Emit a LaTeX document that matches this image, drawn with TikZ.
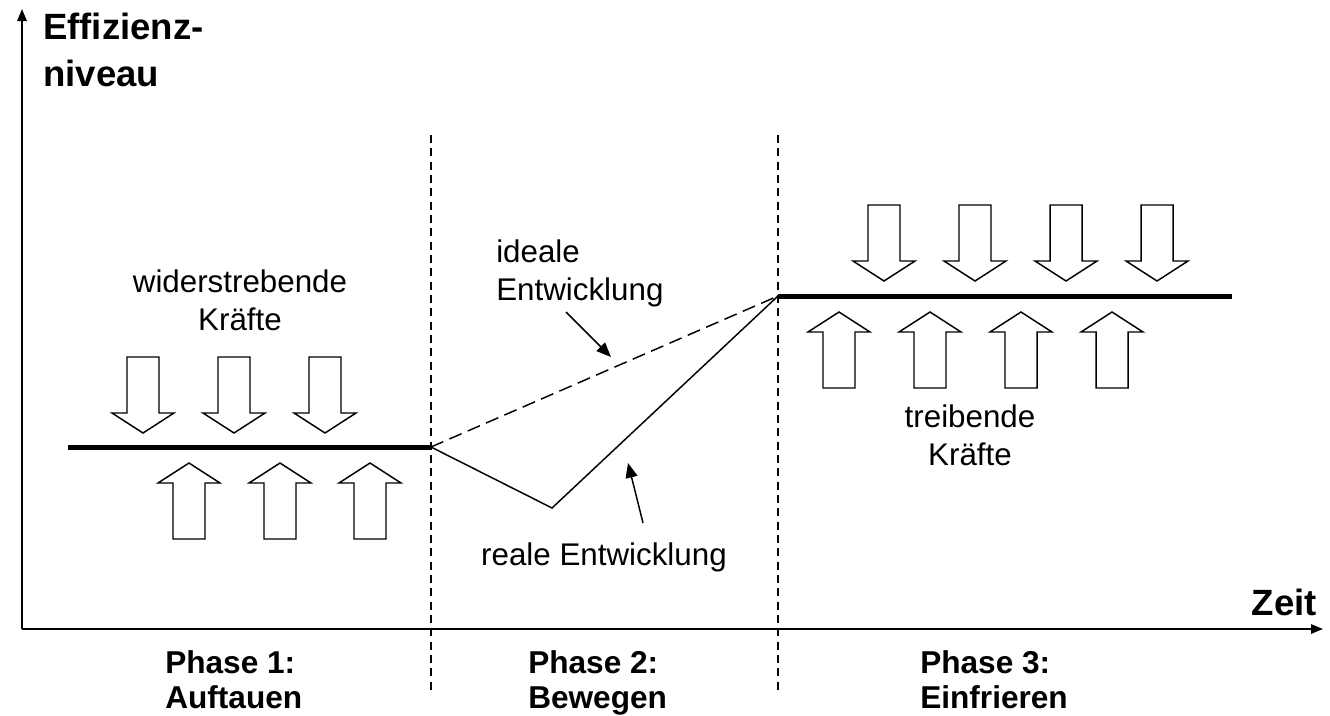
\documentclass[tikz,border=0pt]{standalone}
\usepackage{fontspec}
\setmainfont{Liberation Sans}
\usetikzlibrary{arrows.meta}

\begin{document}
\begin{tikzpicture}[x=0.75pt, y=-0.75pt,
		achse/.style={line width=1.5pt, -{Triangle[length=9pt, width=7pt]}},
		trenn/.style={line width=0.9pt, dash pattern=on 6pt off 4pt},
		niveau/.style={line width=3.75pt},
		verlauf/.style={line width=1.1pt},
		zeiger/.style={line width=1.1pt, -{Triangle[length=11pt, width=9pt]}},
		kraft/.style={draw, fill=white, line width=1.1pt},
		txt/.style={inner sep=0pt, font=\fontsize{23.5}{28.5}\selectfont},
		fett/.style={inner sep=0pt, font=\fontsize{27.4}{35}\selectfont\bfseries},
		phase/.style={inner sep=0pt, align=left, anchor=west, font=\fontsize{23.7}{26.5}\selectfont\bfseries}]
		\useasboundingbox (0, 0) rectangle (1330, 715);
		% Achsen
		\coordinate (o) at (22, 629);
		\coordinate (yende) at (22, 9);
		\coordinate (xende) at (1323, 629);
		\draw[achse] (o) -- (yende);
		\draw[achse] (o) -- (xende);
		\node[fett, align=left, anchor=west] (eff) at (43, 50) {Effizienz-\\niveau};
		\node[fett, anchor=base east] (zeit) at (1317, 615) {Zeit};
		% Phasengrenzen
		\foreach \x/\n in {431/a, 778/b} {
			\coordinate (g\n o) at (\x, 135);
			\coordinate (g\n u) at (\x, 690);
			\draw[trenn] (g\n o) -- (g\n u);
		}
		% Niveaus
		\coordinate (alt1) at (68, 447);
		\coordinate (alt2) at (431, 447);
		\coordinate (neu1) at (778, 296);
		\coordinate (neu2) at (1232, 296);
		\coordinate (tief) at (552, 508);
		\draw[niveau] (alt1) -- (alt2);
		\draw[niveau] (neu1) -- (neu2);
		\draw[verlauf, dash pattern=on 10pt off 5pt] (alt2) -- (neu1);
		\draw[verlauf, line join=miter] (alt2) -- (tief) -- (neu1);
		% Kraefte
		\foreach \x/\t in {143/357, 234/357, 325/357, 884/205, 975/205, 1066/205, 1157/205}
			\draw[kraft] (\x-16, \t) -- (\x+16, \t) -- (\x+16, \t+56) -- (\x+31, \t+56)
				-- (\x, \t+76) -- (\x-31, \t+56) -- (\x-16, \t+56) -- cycle;
		\foreach \x/\t in {189/463, 280/463, 370/463, 839/312, 930/312, 1021/312, 1112/312}
			\draw[kraft] (\x, \t) -- (\x+31, \t+20) -- (\x+16, \t+20) -- (\x+16, \t+76)
				-- (\x-16, \t+76) -- (\x-16, \t+20) -- (\x-31, \t+20) -- cycle;
		% Beschriftungen
		\node[txt, align=center] (wider) at (240, 300) {widerstrebende\\Kräfte};
		\node[txt, align=center] (treib) at (970, 435) {treibende\\Kräfte};
		\node[txt, align=left, anchor=west] (ideal) at (496, 273) {ideale\\Entwicklung};
		\node[txt, anchor=base] (real) at (604, 565) {reale Entwicklung};
		\coordinate (ideal1) at (566, 312);
		\coordinate (ideal2) at (611, 357);
		\coordinate (real1) at (643, 523);
		\coordinate (real2) at (628, 463);
		\draw[zeiger] (ideal1) -- (ideal2);
		\draw[zeiger] (real1) -- (real2);
		\node[phase] (ph1) at (165, 680) {Phase 1:\\Auftauen};
		\node[phase] (ph2) at (528, 683) {Phase 2:\\Bewegen};
		\node[phase] (ph3) at (920, 680) {Phase 3:\\Einfrieren};
	\end{tikzpicture}
\end{document}
